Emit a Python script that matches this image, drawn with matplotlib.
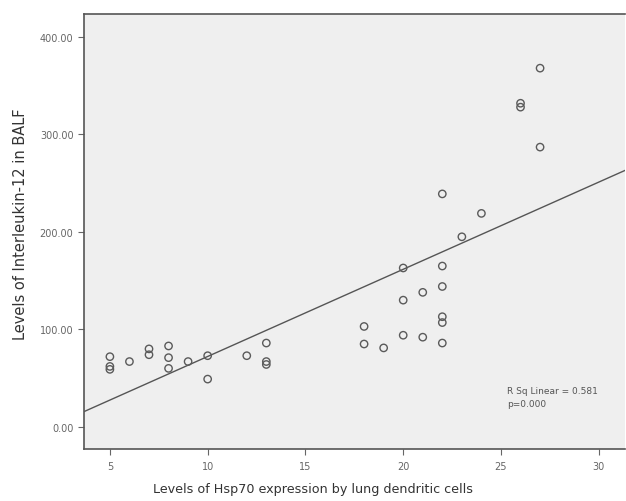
import numpy as np
import matplotlib
matplotlib.use("Agg")
import matplotlib.pyplot as plt

# Hsp70 expression (x) vs IL-12 in BALF (y)
hsp70 = [5, 5, 5, 6, 7, 7, 8, 8, 8, 9, 10, 10, 12, 13, 13, 13,
         18, 18, 19, 20, 20, 20, 21, 21, 22, 22, 22, 22, 22, 22,
         23, 24, 26, 26, 27, 27]
il12 = [72, 62, 59, 67, 80, 74, 83, 71, 60, 67, 73, 49, 73, 86, 67, 64,
        103, 85, 81, 163, 130, 94, 138, 92, 165, 144, 113, 107, 86, 239,
        195, 219, 332, 328, 368, 287]

x_ticks = [5, 10, 15, 20, 25, 30]
y_ticks = [0, 100, 200, 300, 400]

fig = plt.figure(figsize=(6.26, 5.02), dpi=100)
ax = fig.add_axes([0.134, 0.104, 0.864, 0.866])
ax.set_facecolor("#efefef")

ax.scatter(hsp70, il12, s=28, facecolors="none", edgecolors="#5a5a5a",
           linewidths=1.0, zorder=3)

# least-squares fit line across the whole axis
slope, intercept = np.polyfit(hsp70, il12, 1)
xlim = (3.67, 31.33)
xs = np.array(xlim)
ax.plot(xs, intercept + slope * xs, color="#555555", lw=1.0, zorder=2)

ax.set_xlim(*xlim)
ax.set_ylim(-22.5, 423.5)
ax.set_xticks(x_ticks)
ax.set_xticklabels([str(t) for t in x_ticks])
ax.set_yticks(y_ticks)
ax.set_yticklabels([f"{t:.2f}" for t in y_ticks])
ax.tick_params(axis="both", labelsize=7, colors="#666666", length=4,
               width=0.8, direction="out")
ax.tick_params(axis="x", pad=5)
for s in ax.spines.values():
    s.set_color("#555555")
    s.set_linewidth(1.2)
ax.spines["right"].set_visible(False)

ax.text(25.3, 31, "R Sq Linear = 0.581\np=0.000", fontsize=6.5,
        color="#555555", linespacing=1.6, va="center")

fig.text(0.5, 0.024, "Levels of Hsp70 expression by lung dendritic cells",
         ha="center", va="center", fontsize=9.2, color="#333333")
fig.text(0.032, 0.554, "Levels of Interleukin-12 in BALF", rotation=90,
         ha="center", va="center", fontsize=10.5, color="#333333")

fig.savefig("out.png", dpi=100)
